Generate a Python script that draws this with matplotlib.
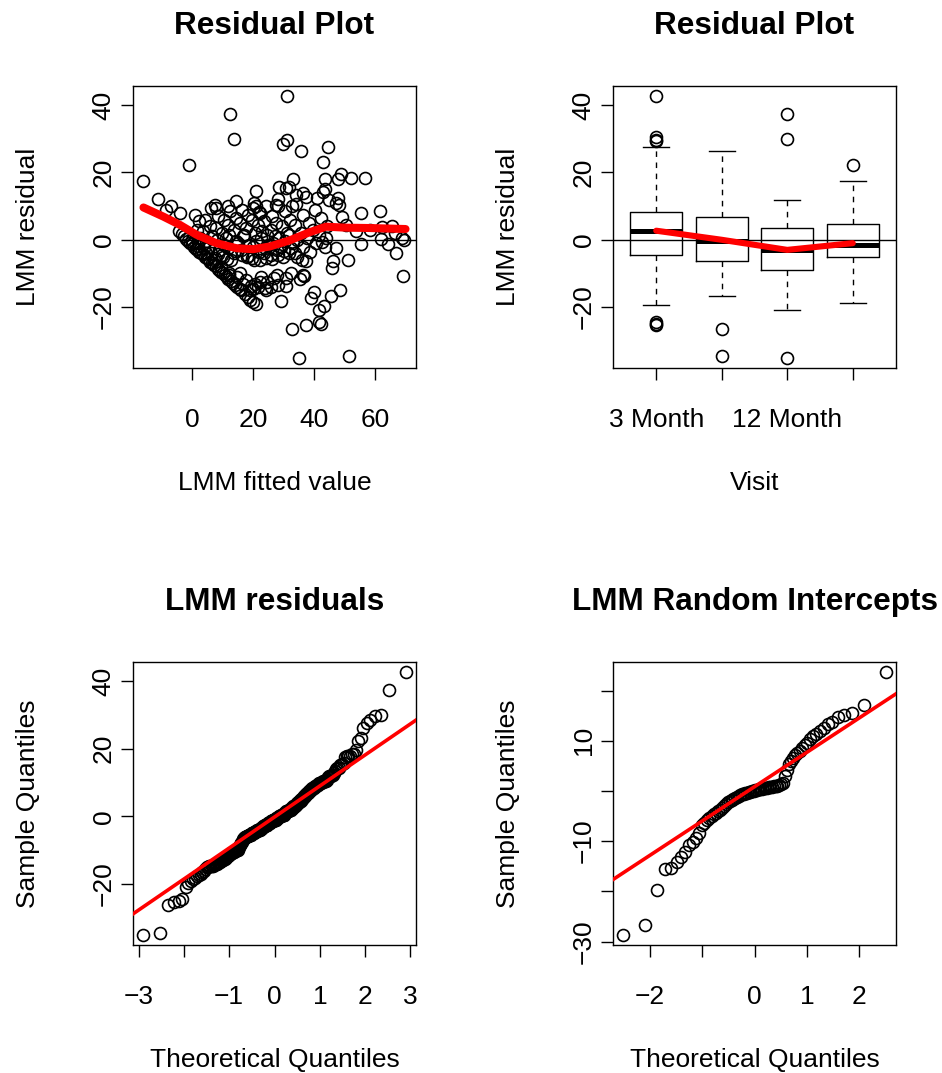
import numpy as np
import matplotlib
matplotlib.use('Agg')
import matplotlib.pyplot as plt
from statistics import NormalDist

plt.rcParams['font.family'] = ['Liberation Sans', 'DejaVu Sans']

# ---- panel 1: LMM fitted value vs residual ----
fitted_values = [
    # sparse points / outliers
    31.0, 12.3, 13.8, 29.9, 31.2, 35.7, 44.5, 42.8, -1.0, -16.0,
    52.0, 56.6, 48.9, 48.0, 43.6, 33.0, 31.9, 28.4, 30.8, 21.0,
    43.6, -11.1, -6.9, -8.7, -4.0, 0.9, 7.4, 7.7, 11.8, 14.5,
    19.9, 21.0, 21.9, 27.5, 28.1, 32.6, 34.1, 36.2, 37.5, 41.1,
    42.8, 45.0, 47.7, 47.1, 48.2, 49.3, 55.5, 61.5, 65.6, 62.3,
    66.7, 69.4, 68.7, 61.8, 64.3, 67.0, 69.1, 55.4, 51.1, 47.1,
    46.0, 46.2, 48.6, 45.4, 43.3, 41.7, 41.7, 42.2, 39.1, 40.0,
    37.3, 32.6, 35.1, 51.5, 37.3, 36.2, 35.4, 36.8, 42.5, 44.0,
    53.6, 58.5, 50.5,
    # lower-left diagonal edge
    -4.2, -3.5, -2.8, -2.0, -1.4, -0.8, -0.2, 0.5, 1.1, 1.7,
    2.3, 2.9, 3.5, 4.1, 4.7, 5.3, 5.9, 6.5, 7.1, 7.7,
    8.3, 8.9, 9.5, 10.1, 10.7, 11.3, 11.9, 12.6, 13.3, 14.0,
    14.8, 15.6, 15.9, 17.3, 18.2, 19.1, 20.0,
    0.0, 2.0, 4.5, 7.0, 9.5, 12.0,
    # dense cloud
    2.3, 1.7, 2.6, 2.0,
    4.2, 3.6, 4.5, 3.9,
    6.3, 5.8, 6.5, 5.6, 6.2,
    8.4, 7.7, 8.1, 8.7, 7.5, 8.3,
    10.3, 9.7, 10.5, 9.8, 10.2,
    12.4, 11.6, 12.2, 11.9, 12.7, 11.5,
    14.3, 13.6, 14.5, 13.8, 14.1, 14.7,
    16.2, 15.6, 16.5, 15.9, 16.3, 15.7, 16.8,
    18.3, 17.7, 18.6, 17.9, 18.2, 17.6, 18.8,
    20.2, 19.6, 20.5, 19.8, 20.3, 19.7, 20.6, 20.0,
    22.3, 21.7, 22.5, 21.8, 22.2, 22.7, 21.6, 22.4,
    24.1, 23.6, 24.5, 23.8, 24.3, 23.7, 24.6, 24.0,
    26.3, 25.7, 26.5, 25.9, 26.2, 26.7,
    28.2, 27.6, 28.5, 27.9, 28.3, 27.7,
    30.3, 29.6, 30.5, 29.8, 30.2, 30.8,
    32.2, 31.6, 32.5, 31.9, 32.3,
    34.2, 33.6, 34.5, 33.8, 34.3,
    36.3, 35.7, 36.5, 35.9,
    38.2, 37.6, 38.5,
    40.3, 39.7, 40.5,
    42.2, 41.6,
    44.2, 43.7,
    20.9, 24.2, 29.1, 19.3, 25.8, 28.0, 30.7, 12.2,
    11.0, 15.0, 17.0, 21.0, 23.0, 25.0, 27.0, 29.0, 31.0, 33.0,
]
residuals = [
    42.6, 37.5, 30.0, 28.6, 29.8, 26.3, 27.6, 23.2, 22.2, 17.6,
    18.4, 18.4, 19.5, 18.0, 18.0, 18.0, 15.6, 15.8, 15.3, 14.4,
    15.1, 12.0, 10.1, 8.9, 8.1, 7.4, 10.4, 9.4, 10.1, 11.6,
    9.4, 9.9, 8.4, 10.4, 9.9, 9.9, 13.3, 14.0, 12.8, 12.3,
    14.3, 11.8, 12.3, 10.8, 10.4, 6.9, 7.9, 8.6, 4.2, 3.9,
    2.0, 0.0, 0.5, 0.2, -1.4, -3.9, -10.7, -1.2, -5.9, -2.5,
    -8.4, -6.4, -14.8, -16.6, -19.7, -21.0, -24.5, -25.1, -17.4, -15.5,
    -25.4, -26.4, -35.0, -34.5, -6.4, -10.4, -11.8, -10.8, -0.8, 0.5,
    2.5, 3.0, 4.5,
    2.6, 1.6, 1.2, 0.2, -0.3, -1.0, -1.3, -2.0, -2.6, -2.8,
    -3.5, -4.0, -4.3, -5.0, -5.5, -5.8, -6.6, -6.9, -7.6, -7.9,
    -8.6, -9.0, -9.7, -10.0, -10.6, -11.1, -11.6, -12.2, -12.8, -13.4,
    -14.0, -14.7, -14.9, -16.2, -17.0, -17.8, -18.5,
    -0.2, -1.8, -3.8, -6.0, -8.0, -10.0,
    5.5, 3.0, 0.5, -1.0,
    6.0, 2.5, -0.5, -2.5,
    9.5, 4.0, 1.0, -2.0, -4.0,
    7.0, 3.5, 0.0, -3.0, -5.5, -4.2,
    6.0, 2.0, -1.5, -4.5, -5.2,
    8.5, 4.5, 1.5, -2.5, -6.0, -5.8,
    6.5, 3.0, -0.5, -4.0, -3.4, -11.0,
    9.0, 5.0, 1.0, -3.0, -4.4, -10.0, -13.0,
    7.5, 3.5, -1.5, -5.0, -4.8, -12.0, -15.0,
    11.0, 6.0, 2.0, -2.0, -6.0, -5.4, -13.0, -14.6,
    8.0, 4.5, 0.5, -3.5, -5.9, -11.0, -14.0, -12.5,
    10.0, 5.5, 1.5, -2.5, -5.5, -3.8, -12.5, -14.3,
    7.0, 3.0, -1.0, -4.5, -5.6, -11.5,
    12.0, 5.0, 0.5, -3.0, -4.6, -10.5,
    8.5, 4.0, -0.5, -5.0, -3.2, -11.5,
    6.0, 1.5, -2.5, -4.0, -10.0,
    10.5, 4.5, 0.0, -4.0, -5.0,
    7.5, 2.0, -2.0, -6.0,
    5.0, 0.5, -3.5,
    9.0, 3.0, -1.0,
    6.5, 1.5,
    4.0, -2.0,
    -19.2, -14.8, -18.2, -13.6, -14.0, -13.3, -13.8, -10.4,
    0.5, -1.0, 1.5, -0.5, 2.5, -1.5, 1.0, -2.0, 2.0, -1.0,
]

# lowess smooth drawn in red
smooth_x = [-16.0, -9.5, -4.0, 1.4, 7.9, 14.5, 19.9, 25.4, 31.9, 38.4, 43.9, 50.4, 58.0, 70.0]
smooth_y = [9.6, 6.9, 4.4, 1.5, -1.0, -2.5, -2.8, -2.0, -0.2, 2.2, 3.9, 3.6, 3.5, 3.2]

# ---- panel 2: residuals by visit (box statistics) ----
visit_pos = [1, 2, 3, 4]
visit_labels = ['3 Month', '', '12 Month', '']
box_low = [-19.5, -16.6, -21.0, -18.9]
box_q1 = [-4.4, -6.2, -9.1, -5.2]
box_med = [2.7, -0.3, -3.0, -1.5]
box_q3 = [8.4, 6.9, 3.6, 4.7]
box_high = [27.6, 26.3, 11.8, 17.5]
box_out = [[42.6, 30.4, 29.8, 29.3, -24.5, -25.1, -25.4],
           [-26.4, -34.5],
           [37.5, 30.0, -35.0],
           [22.2]]
visit_trend = [2.7, 0.0, -3.0, -1.0]

# ---- panel 4: random intercepts (sorted) ----
rand_intercepts = [
    -28.6, -26.7, -19.7, -15.6, -15.4, -14.1, -13.1, -12.1, -10.8, -10.1, -9.4, -8.4,
    -6.8, -6.3, -5.8, -5.3, -4.9, -4.6, -4.3, -4.0, -3.7, -3.3,
    -2.9, -2.6, -2.3, -2.0, -1.8, -1.6, -1.4, -1.2, -1.0,
    -0.9, -0.7, -0.6, -0.5, -0.4, -0.3, -0.2, -0.1, 0.0, 0.1,
    0.2, 0.3, 0.35, 0.4, 0.5, 0.55, 0.6, 0.7, 0.75, 0.8,
    0.9, 0.95, 1.0, 1.1, 1.3, 1.6,
    3.0, 4.2, 5.3, 6.0, 6.6, 7.2, 7.6, 8.0, 8.6, 9.1,
    9.6, 10.3, 11.0, 11.4, 12.0, 12.5, 13.4, 13.8, 14.8, 15.2,
    15.5, 17.1, 23.6,
]

LAB = 19
TITLE = 22.7
PT = 8.6


def qq_theory(n):
    # same plotting positions as R's ppoints()
    a = 0.5 if n > 10 else 3 / 8
    nd = NormalDist()
    return np.array([nd.inv_cdf((i - a) / (n + 1 - 2 * a)) for i in range(1, n + 1)])


def qq_line(ax, sample):
    nd = NormalDist()
    y = np.quantile(sample, [0.25, 0.75])
    x = [nd.inv_cdf(0.25), nd.inv_cdf(0.75)]
    slope = (y[1] - y[0]) / (x[1] - x[0])
    ax.axline((x[0], y[0]), slope=slope, color='red', lw=2.6, zorder=4)


def r_style(ax, title, xlabel, ylabel):
    for s in ax.spines.values():
        s.set_linewidth(1.0)
    ax.set_title(title, fontsize=TITLE, fontweight='bold', y=1.185, pad=0)
    ax.set_xlabel(xlabel, fontsize=LAB)
    ax.set_ylabel(ylabel, fontsize=LAB)
    ax.xaxis.set_label_coords(0.5, -0.365)
    ax.yaxis.set_label_coords(-0.33, 0.5)
    ax.tick_params(axis='both', direction='out', length=8.5, width=1.0, labelsize=LAB)
    ax.tick_params(axis='x', pad=20)
    ax.tick_params(axis='y', pad=4, labelrotation=90)
    plt.setp(ax.get_yticklabels(), va='center', ha='right')


fig = plt.figure(figsize=(9.42, 10.73), dpi=100)
W, H = 942, 1073


def panel(x0, y0, x1, y1):
    return fig.add_axes([x0 / W, 1 - y1 / H, (x1 - x0) / W, (y1 - y0) / H])


ax1 = panel(133, 86, 416, 368)
ax2 = panel(613, 86, 896, 368)
ax3 = panel(133, 662, 416, 945)
ax4 = panel(613, 662, 896, 945)

circle = dict(linestyle='none', marker='o', ms=PT, mfc='none', mec='black', mew=1.2)

# residual vs fitted
ax1.plot(fitted_values, residuals, **circle)
ax1.axhline(0, color='black', lw=1.0)
ax1.plot(smooth_x, smooth_y, color='red', lw=5.8, solid_capstyle='round', zorder=4)
ax1.margins(0.04)
ax1.set_xticks([0, 20, 40, 60])
ax1.set_yticks([-20, 0, 20, 40])
ax1.set_yticklabels(['\u221220', '0', '20', '40'])
r_style(ax1, 'Residual Plot', 'LMM fitted value', 'LMM residual')

# boxplot by visit
stats = []
for i in range(4):
    stats.append(dict(whislo=box_low[i], q1=box_q1[i], med=box_med[i], q3=box_q3[i],
                      whishi=box_high[i], fliers=box_out[i]))
ax2.bxp(stats, positions=visit_pos, widths=0.8, capwidths=0.4,
        boxprops=dict(lw=1.0, color='black'),
        whiskerprops=dict(lw=1.0, color='black', linestyle=(0, (4, 4))),
        capprops=dict(lw=1.0, color='black'),
        medianprops=dict(lw=3.6, color='black', solid_capstyle='butt'),
        flierprops=dict(marker='o', ms=PT, mfc='none', mec='black', mew=1.2))
ax2.axhline(0, color='black', lw=1.0)
ax2.plot(visit_pos, visit_trend, color='red', lw=4.4, solid_capstyle='round', zorder=4)
ax2.margins(y=0.04)
ax2.set_xlim(0.34, 4.66)
ax2.set_xticks(visit_pos)
ax2.set_xticklabels(visit_labels)
ax2.set_yticks([-20, 0, 20, 40])
ax2.set_yticklabels(['\u221220', '0', '20', '40'])
r_style(ax2, 'Residual Plot', 'Visit', 'LMM residual')

# normal QQ of residuals
res_sorted = np.sort(residuals)
ax3.plot(qq_theory(len(res_sorted)), res_sorted, **circle)
ax3.margins(0.04)
qq_line(ax3, res_sorted)
ax3.set_xticks([-3, -2, -1, 0, 1, 2, 3])
ax3.set_xticklabels(['\u22123', '', '\u22121', '0', '1', '2', '3'])
ax3.set_yticks([-20, 0, 20, 40])
ax3.set_yticklabels(['\u221220', '0', '20', '40'])
r_style(ax3, 'LMM residuals', 'Theoretical Quantiles', 'Sample Quantiles')

# normal QQ of random intercepts
ri_sorted = np.sort(rand_intercepts)
ax4.plot(qq_theory(len(ri_sorted)), ri_sorted, **circle)
ax4.margins(0.04)
qq_line(ax4, ri_sorted)
ax4.set_xticks([-2, -1, 0, 1, 2])
ax4.set_xticklabels(['\u22122', '', '0', '1', '2'])
ax4.set_yticks([-30, -20, -10, 0, 10, 20])
ax4.set_yticklabels(['\u221230', '', '\u221210', '', '10', ''])
r_style(ax4, 'LMM Random Intercepts', 'Theoretical Quantiles', 'Sample Quantiles')

fig.savefig('out.png', dpi=100)
